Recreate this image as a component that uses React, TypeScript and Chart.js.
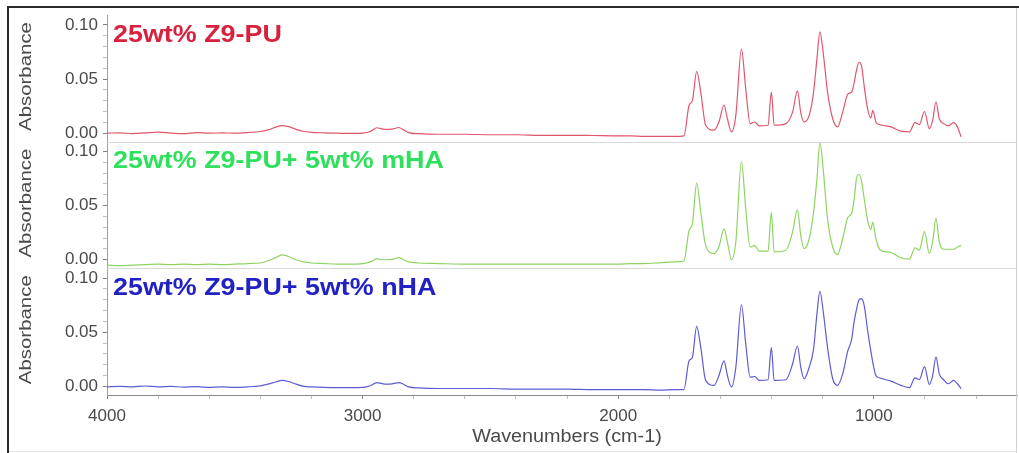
import React, { useEffect, useRef } from 'react';
import { Chart, registerables } from 'chart.js';

Chart.register(...registerables);

// Wavenumber grid (cm-1) shared by all three spectra
const wavenumbers = [
  4000, 3950, 3900, 3850, 3800, 3750, 3700, 3650, 3600, 3550, 3500, 3450, 3400, 3370, 3340, 3316,
  3290, 3260, 3230, 3200, 3150, 3100, 3050, 3000, 2970, 2944, 2925, 2905, 2880, 2859, 2840, 2820,
  2780, 2700, 2600, 2500, 2400, 2300, 2200, 2100, 2000, 1950, 1900, 1834, 1780, 1743,
  1723, 1710, 1693, 1677, 1658, 1625, 1606, 1586, 1573, 1557, 1540, 1518, 1501, 1484, 1466, 1449,
  1414, 1401, 1390, 1344, 1318, 1299, 1286, 1273, 1253, 1236, 1223, 1211, 1198, 1181, 1161, 1142,
  1122, 1102, 1087, 1077, 1068, 1058, 1048, 1037, 1024, 1012, 1004, 992, 979, 966, 933, 894,
  861, 839, 822, 802, 783, 770, 757, 744, 727, 709, 688, 673, 659,
];

// 25wt% Z9-PU (absorbance)
const puValues = [
  0.0, 0.0003, -0.0005, 0.0002, 0.001, 0.0, -0.0005, 0.0005, 0.0, 0.0003, 0.0, 0.0005, 0.0015, 0.003, 0.0055, 0.007,
  0.006, 0.0035, 0.0015, 0.0008, 0.0003, 0.0, -0.0003, 0.0, 0.0015, 0.005, 0.004, 0.0035, 0.004, 0.0052, 0.003, 0.0005,
  -0.0005, -0.001, -0.001, -0.0015, -0.0015, -0.002, -0.002, -0.0022, -0.0025, -0.0025, -0.003, -0.003, -0.003, -0.0025,
  0.0255, 0.03, 0.057, 0.0376, 0.0073, 0.0027, 0.0103, 0.026, 0.0133, 0.0012, 0.0164, 0.0776, 0.0406, 0.0088, 0.0103, 0.0067,
  0.0073, 0.038, 0.0073, 0.0088, 0.0194, 0.039, 0.019, 0.0103, 0.0164, 0.0376, 0.068, 0.0936, 0.074, 0.0376, 0.0133, 0.0058,
  0.0194, 0.036, 0.038, 0.0467, 0.058, 0.0655, 0.062, 0.042, 0.022, 0.014, 0.021, 0.0103, 0.008, 0.0073, 0.0058, 0.0018,
  0.0012, 0.0097, 0.0079, 0.02, 0.0042, 0.0118, 0.029, 0.0133, 0.0088, 0.0067, 0.0097, 0.0058, -0.0033,
];

// 25wt% Z9-PU + 5wt% mHA
const puMhaValues = [
  -0.005, -0.0055, -0.005, -0.0045, -0.004, -0.0045, -0.004, -0.0045, -0.004, -0.0045, -0.004, -0.0035, -0.003, -0.001, 0.002, 0.0045,
  0.003, 0.0, -0.002, -0.003, -0.0035, -0.004, -0.004, -0.0035, -0.002, 0.001, 0.0, 0.0, 0.0005, 0.002, 0.0, -0.002,
  -0.003, -0.0035, -0.004, -0.004, -0.004, -0.004, -0.004, -0.004, -0.004, -0.0035, -0.0035, -0.0027, -0.002, -0.0012,
  0.027, 0.033, 0.0709, 0.0436, 0.0133, 0.0057, 0.012, 0.0285, 0.0164, 0.0, 0.0164, 0.0906, 0.0467, 0.0118, 0.0133, 0.0079,
  0.0079, 0.0436, 0.0073, 0.0088, 0.0255, 0.046, 0.0224, 0.0103, 0.0194, 0.0436, 0.074, 0.108, 0.083, 0.0376, 0.0118, 0.0048,
  0.0194, 0.039, 0.043, 0.0558, 0.075, 0.079, 0.0724, 0.055, 0.036, 0.028, 0.0345, 0.0194, 0.0103, 0.008, 0.0067, 0.0018,
  0.0006, 0.0109, 0.0088, 0.026, 0.0058, 0.0164, 0.0382, 0.0164, 0.0097, 0.0097, 0.0097, 0.0118, 0.0133,
];

// 25wt% Z9-PU + 5wt% nHA
const puNhaValues = [
  -0.0005, 0.0, -0.0005, 0.0003, -0.0005, 0.0, -0.0008, -0.0003, -0.001, -0.0005, -0.001, -0.0005, 0.0005, 0.002, 0.004, 0.0055,
  0.0045, 0.002, 0.0, -0.0005, -0.001, -0.0012, -0.0012, -0.001, 0.0005, 0.0035, 0.0025, 0.002, 0.0025, 0.0035, 0.002, -0.0005,
  -0.0015, -0.002, -0.002, -0.002, -0.0025, -0.0025, -0.0025, -0.003, -0.003, -0.003, -0.003, -0.0035, -0.003, -0.003,
  0.0236, 0.0267, 0.0555, 0.0357, 0.0055, 0.0009, 0.01, 0.0236, 0.01, -0.0006, 0.0176, 0.0752, 0.0388, 0.0085, 0.0091, 0.0055,
  0.0061, 0.0357, 0.0055, 0.0061, 0.0206, 0.0373, 0.0176, 0.007, 0.0176, 0.0342, 0.066, 0.0879, 0.069, 0.0357, 0.007, 0.0009,
  0.0115, 0.0327, 0.0433, 0.06, 0.071, 0.08, 0.081, 0.0736, 0.0509, 0.033, 0.022, 0.01, 0.008, 0.007, 0.0048, 0.0009,
  -0.0012, 0.0079, 0.0061, 0.0182, 0.0018, 0.01, 0.0273, 0.0115, 0.0061, 0.0024, 0.0055, 0.0024, -0.0021,
];

const seriesLabels = ['25wt% Z9-PU', '25wt% Z9-PU+ 5wt% mHA', '25wt% Z9-PU+ 5wt% nHA'];
const lineColors = ['#e0566c', '#8ed462', '#5c5cd6'];
const labelColors = ['#d8213d', '#2fe05c', '#2222c4'];
const yTitle = 'Absorbance';
const xTitle = 'Wavenumbers (cm-1)';

const xTickValues = [4000, 3800, 3600, 3400, 3200, 3000, 2800, 2600, 2400, 2200, 2000, 1800, 1600, 1400, 1200, 1000, 800, 600];
const xTickLabels = [4000, 3000, 2000, 1000];
const yTickValues = [0, 0.01, 0.02, 0.03, 0.04, 0.05, 0.06, 0.07, 0.08, 0.09, 0.1];
const yTickLabels = [0, 0.05, 0.1];

const FONT = '"Liberation Sans", Arial, sans-serif';
const panelIds = ['y1', 'y2', 'y3']; // top, middle, bottom

const isLabeled = (list: number[], v: number) => list.some((l) => Math.abs(l - v) < 1e-6);

const framePlugin = {
  id: 'framePlugin',
  afterDraw(chart: any) {
    const ctx = chart.ctx;
    const area = chart.chartArea;
    ctx.save();
    // panel separators
    ctx.strokeStyle = '#d8d8d8';
    ctx.lineWidth = 1;
    panelIds.slice(1).forEach((id) => {
      const s = chart.scales[id];
      ctx.beginPath();
      ctx.moveTo(area.left, Math.round(s.top) + 0.5);
      ctx.lineTo(area.right, Math.round(s.top) + 0.5);
      ctx.stroke();
    });
    // panel titles and y axis titles
    panelIds.forEach((id, i) => {
      const s = chart.scales[id];
      const y = s.getPixelForValue(0.0845);
      ctx.save();
      ctx.translate(area.left + 6, y);
      ctx.scale(1.12, 1);
      ctx.font = 'bold 24px ' + FONT;
      ctx.fillStyle = labelColors[i];
      ctx.textBaseline = 'alphabetic';
      ctx.textAlign = 'left';
      ctx.fillText(seriesLabels[i], 0, 0);
      ctx.restore();

      ctx.save();
      ctx.translate(26, (s.top + s.bottom) / 2 - 2);
      ctx.rotate(-Math.PI / 2);
      ctx.scale(1.2, 1);
      ctx.font = '17px ' + FONT;
      ctx.fillStyle = '#4a4a4a';
      ctx.textAlign = 'center';
      ctx.textBaseline = 'middle';
      ctx.fillText(yTitle, 0, 0);
      ctx.restore();
    });
    // x axis title
    const xs = chart.scales.x;
    ctx.save();
    ctx.translate(567, 437);
    ctx.scale(1.1, 1);
    ctx.font = '18px ' + FONT;
    ctx.fillStyle = '#4a4a4a';
    ctx.textAlign = 'center';
    ctx.textBaseline = 'middle';
    ctx.fillText(xTitle, 0, 0);
    ctx.restore();
    void xs;
    // outer frame
    ctx.fillStyle = '#2a2a2a';
    ctx.fillRect(7, 6, 2, 447);
    ctx.fillRect(7, 6, 1012, 2);
    ctx.fillStyle = '#cfcfcf';
    ctx.fillRect(1016, 8, 1, 445);
    ctx.fillStyle = '#e4e4e4';
    ctx.fillRect(9, 451, 1008, 1);
    ctx.restore();
  },
};

function yScale() {
  return {
    type: 'linear',
    position: 'left',
    stack: 'panels',
    stackWeight: 1,
    min: -0.008,
    max: 0.109,
    afterBuildTicks: (axis: any) => {
      axis.ticks = yTickValues.map((v) => ({ value: v }));
    },
    afterFit: (s: any) => {
      s.width = 107;
    },
    border: { display: true, color: '#a0a0a0', width: 1 },
    grid: {
      drawOnChartArea: false,
      drawTicks: true,
      tickLength: 4,
      tickColor: (c: any) => (c.tick && isLabeled(yTickLabels, c.tick.value) ? '#808080' : '#c0c0c0'),
    },
    ticks: {
      autoSkip: false,
      padding: 5,
      color: '#4a4a4a',
      font: { family: FONT, size: 17 },
      callback: (v: any) => (isLabeled(yTickLabels, Number(v)) ? Number(v).toFixed(2) : ''),
    },
    title: { display: false },
  };
}

export default function App() {
  const canvasRef = useRef<HTMLCanvasElement | null>(null);

  useEffect(() => {
    if (!canvasRef.current) return;
    const toPoints = (vals: number[]) => wavenumbers.map((w, i) => ({ x: w, y: vals[i] }));
    const allValues = [puValues, puMhaValues, puNhaValues];
    const chart = new Chart(canvasRef.current, {
      type: 'line',
      data: {
        datasets: allValues.map((vals, i) => ({
          label: seriesLabels[i],
          data: toPoints(vals),
          yAxisID: panelIds[i],
          borderColor: lineColors[i],
          borderWidth: 1.2,
          pointRadius: 0,
          fill: false,
          cubicInterpolationMode: 'monotone',
        })),
      } as any,
      options: {
        responsive: false,
        animation: false,
        devicePixelRatio: 1,
        layout: { padding: { left: 0, top: 8, right: 2, bottom: 0 } },
        plugins: {
          legend: { display: false },
          tooltip: { enabled: false },
        },
        scales: {
          x: {
            type: 'linear',
            reverse: true,
            min: 440,
            max: 4000,
            afterBuildTicks: (axis: any) => {
              axis.ticks = xTickValues.map((v) => ({ value: v }));
            },
            afterFit: (s: any) => {
              s.height = 58;
            },
            border: { display: true, color: '#8a8a8a', width: 1 },
            grid: {
              drawOnChartArea: false,
              drawTicks: true,
              tickLength: 4,
              tickColor: (c: any) => (c.tick && isLabeled(xTickLabels, c.tick.value) ? '#808080' : '#c0c0c0'),
            },
            ticks: {
              autoSkip: false,
              maxRotation: 0,
              padding: 7,
              color: '#4a4a4a',
              font: { family: FONT, size: 17 },
              callback: (v: any) => (isLabeled(xTickLabels, Number(v)) ? String(v) : ''),
            },
            title: { display: false },
          },
          // stacked scales: the last defined is drawn at the top
          y3: yScale(),
          y2: yScale(),
          y1: yScale(),
        } as any,
      },
      plugins: [framePlugin],
    } as any);
    return () => chart.destroy();
  }, []);

  return (
    <div style={{ position: 'fixed', left: 0, top: 0, width: 1019, height: 453, background: '#fff' }}>
      <canvas ref={canvasRef} width={1019} height={453} style={{ display: 'block', width: 1019, height: 453 }} />
    </div>
  );
}
